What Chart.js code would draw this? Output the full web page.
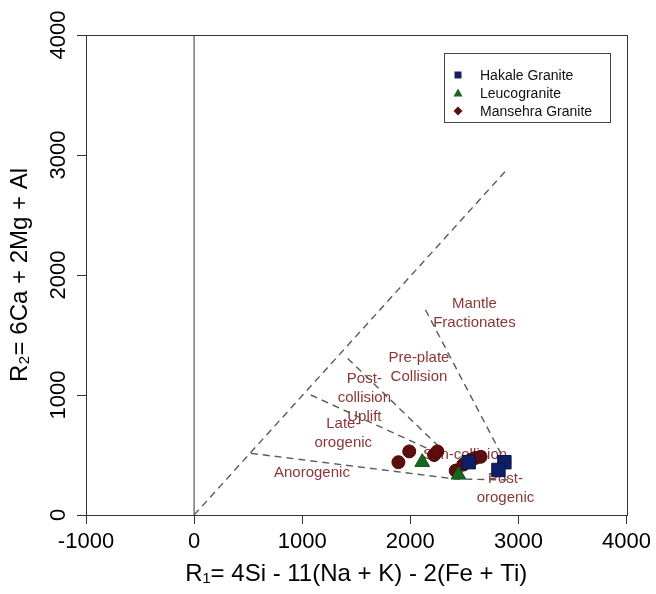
<!DOCTYPE html>
<html><head><meta charset="utf-8">
<script src="https://cdn.jsdelivr.net/npm/chart.js@4.4.0/dist/chart.umd.min.js"></script>
<style>html,body{margin:0;padding:0;background:#fff}#wrap{width:656px;height:594px}</style>
</head><body><div id="wrap"><canvas id="c" width="656" height="594"></canvas></div>
<script>
// ---- axes ----
const xTicks = [-1000, 0, 1000, 2000, 3000, 4000];
const yTicks = [0, 1000, 2000, 3000, 4000];
const xTitle = 'R\u2081= 4Si - 11(Na + K) - 2(Fe + Ti)';
const yTitle = 'R\u2082= 6Ca + 2Mg + Al';

// ---- samples ----
const seriesNames = ['Hakale Granite', 'Leucogranite', 'Mansehra Granite'];
const hakaleR1 = [2540, 2870, 2815];
const hakaleR2 = [440, 440, 375];
const leucoR1 = [2110, 2445];
const leucoR2 = [440, 335];
const mansehraR1 = [1890, 1990, 2220, 2250, 2420, 2490, 2560, 2600, 2650];
const mansehraR2 = [440, 530, 500, 530, 370, 420, 460, 475, 485];

// ---- field boundaries (R1, R2) ----
const diagR1 = [0, 2890];
const diagR2 = [0, 2875];
const mantleR1 = [2140, 2880];
const mantleR2 = [1710, 440];
const postCollR1 = [1420, 2310];
const postCollR2 = [1305, 530];
const lateOroR1 = [1080, 2290];
const lateOroR2 = [1000, 500];
const anoroR1 = [525, 2420, 2950];
const anoroR2 = [514, 300, 292];
const zeroR1 = [0, 0];
const zeroR2 = [0, 4000];

// ---- field labels ----
const fieldText = [['Mantle', 'Fractionates'], ['Pre-plate', 'Collision'], ['Post-', 'collision', 'Uplift'],
  ['Late-', 'orogenic'], ['Anorogenic'], ['Syn-collision'], ['Post-', 'orogenic']];
const fieldR1 = [2593, 2080, 1575, 1380, 1090, 2506, 2880];
const fieldR2 = [1680, 1227, 979, 678, 352, 500, 220];

const pts = (xs, ys) => xs.map((x, i) => ({x: x, y: ys[i]}));

const lineDs = (xs, ys, dash, color) => ({
  type: 'line', data: pts(xs, ys), showLine: true, pointRadius: 0, borderColor: color,
  borderWidth: 1.4, borderDash: dash, fill: false, tension: 0, order: 5, isBoundary: true
});

const datasets = [
  lineDs(zeroR1, zeroR2, [], '#6e6e6e'),
  lineDs(diagR1, diagR2, [7, 5], '#5a5a5a'),
  lineDs(mantleR1, mantleR2, [7, 5], '#5a5a5a'),
  lineDs(postCollR1, postCollR2, [7, 5], '#5a5a5a'),
  lineDs(lateOroR1, lateOroR2, [7, 5], '#5a5a5a'),
  lineDs(anoroR1, anoroR2, [7, 5], '#5a5a5a'),
  {label: seriesNames[2], data: pts(mansehraR1, mansehraR2), pointStyle: 'circle', pointRadius: 6.5,
   backgroundColor: '#5c0d0d', borderColor: '#4a0808', borderWidth: 1, order: 3, legendStyle: 'diamond'},
  {label: seriesNames[1], data: pts(leucoR1, leucoR2), pointStyle: 'triangle', pointRadius: 8.5,
   backgroundColor: '#17661f', borderColor: '#0f5518', borderWidth: 1, order: 2, legendStyle: 'triangle'},
  {label: seriesNames[0], data: pts(hakaleR1, hakaleR2), pointStyle: 'rect', pointRadius: 9.5,
   backgroundColor: '#101e66', borderColor: '#0a1450', borderWidth: 1, order: 1, legendStyle: 'rect'}
];

const fieldLabels = {
  id: 'fieldLabels',
  beforeDatasetsDraw(chart) {
    const {ctx, scales: {x, y}} = chart;
    ctx.save();
    ctx.fillStyle = '#8c3636';
    ctx.font = '15px "Liberation Sans", Arial, sans-serif';
    ctx.textAlign = 'center';
    ctx.textBaseline = 'middle';
    fieldText.forEach((lines, i) => {
      const px = x.getPixelForValue(fieldR1[i]);
      const py = y.getPixelForValue(fieldR2[i]);
      const lh = 19;
      const y0 = py - (lines.length - 1) * lh / 2;
      lines.forEach((t, k) => ctx.fillText(t, px, y0 + k * lh));
    });
    ctx.restore();
  }
};

const frame = {
  id: 'frame',
  afterDraw(chart) {
    const {ctx, chartArea: a} = chart;
    ctx.save();
    ctx.strokeStyle = '#333';
    ctx.lineWidth = 1;
    ctx.strokeRect(Math.round(a.left) + 0.5, Math.round(a.top) + 0.5,
      Math.round(a.right - a.left), Math.round(a.bottom - a.top));
    ctx.restore();
  }
};

const legendBox = {
  id: 'legendBox',
  afterDraw(chart) {
    const {ctx} = chart;
    const items = chart.data.datasets.filter(d => d.label).slice().sort((a, b) => seriesNames.indexOf(a.label) - seriesNames.indexOf(b.label));
    const bx = 444, by = 53, bw = 166, bh = 69;
    ctx.save();
    ctx.fillStyle = '#fff';
    ctx.fillRect(bx, by, bw, bh);
    ctx.strokeStyle = '#444';
    ctx.lineWidth = 1;
    ctx.strokeRect(bx + 0.5, by + 0.5, bw, bh);
    ctx.font = '14px "Liberation Sans", Arial, sans-serif';
    ctx.textBaseline = 'middle';
    ctx.textAlign = 'left';
    items.forEach((d, i) => {
      const cy = by + 22 + i * 18;
      const cx = bx + 14;
      ctx.fillStyle = d.backgroundColor;
      ctx.beginPath();
      if (d.legendStyle === 'rect') {
        ctx.rect(cx - 3.5, cy - 3.5, 7, 7);
      } else if (d.legendStyle === 'triangle') {
        ctx.moveTo(cx, cy - 4.5); ctx.lineTo(cx + 4.5, cy + 3.5); ctx.lineTo(cx - 4.5, cy + 3.5); ctx.closePath();
      } else {
        ctx.moveTo(cx, cy - 4.5); ctx.lineTo(cx + 4.5, cy); ctx.lineTo(cx, cy + 4.5); ctx.lineTo(cx - 4.5, cy); ctx.closePath();
      }
      ctx.fill();
      ctx.fillStyle = '#111';
      ctx.fillText(d.label, bx + 36, cy + 1);
    });
    ctx.restore();
  }
};

const tickFont = {family: '"Liberation Sans", Arial, sans-serif', size: 22};
const titleFont = {family: '"Liberation Sans", Arial, sans-serif', size: 24};
const plainNum = v => String(v);

new Chart(document.getElementById('c'), {
  type: 'scatter',
  data: {datasets: datasets},
  options: {
    responsive: false, animation: false, devicePixelRatio: 1,
    layout: {padding: {top: 35, right: 29, left: 0, bottom: 0}},
    plugins: {legend: {display: false}, tooltip: {enabled: false}, title: {display: false}},
    scales: {
      x: {
        type: 'linear', min: -1000, max: 4000,
        afterBuildTicks: s => { s.ticks = xTicks.map(v => ({value: v})); },
        afterFit: s => { s.height = 79; },
        ticks: {font: tickFont, color: '#000', padding: 5, maxRotation: 0, minRotation: 0, callback: plainNum},
        grid: {drawOnChartArea: false, drawTicks: true, tickLength: 9, color: '#333', lineWidth: 1},
        border: {display: true, color: '#333', width: 1},
        title: {display: true, text: xTitle, font: titleFont, color: '#000', padding: {top: 0, bottom: 5}}
      },
      y: {
        type: 'linear', min: 0, max: 4000,
        afterBuildTicks: s => { s.ticks = yTicks.map(v => ({value: v})); },
        afterFit: s => { s.width = 86; },
        ticks: {font: tickFont, color: '#000', padding: -6, minRotation: 90, maxRotation: 90, crossAlign: 'center', callback: plainNum},
        grid: {drawOnChartArea: false, drawTicks: true, tickLength: 9, color: '#333', lineWidth: 1},
        border: {display: true, color: '#333', width: 1},
        title: {display: true, text: yTitle, font: titleFont, color: '#000', padding: {top: 6, bottom: 0}}
      }
    }
  },
  plugins: [fieldLabels, frame, legendBox]
});
</script></body></html>
